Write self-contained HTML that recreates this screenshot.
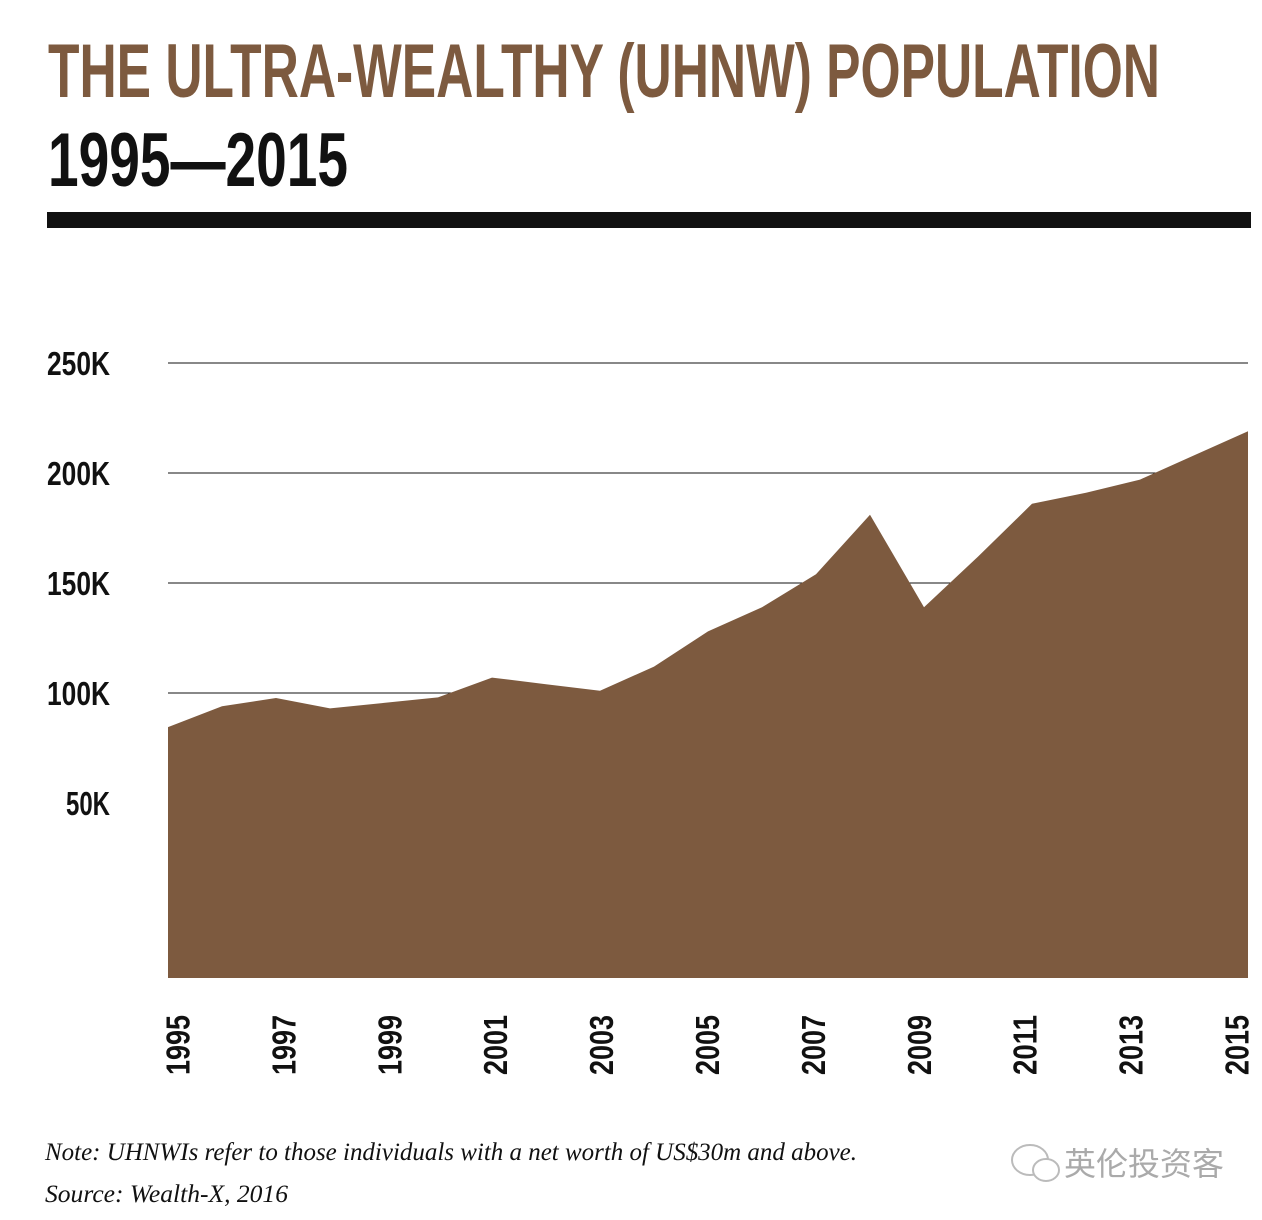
<!DOCTYPE html>
<html><head><meta charset="utf-8"><style>
html,body{margin:0;padding:0;background:#fff;}
svg{display:block;}
</style></head><body>
<svg width="1262" height="1220" viewBox="0 0 1262 1220" xmlns="http://www.w3.org/2000/svg">
<text x="48" y="97" font-family="Liberation Sans Narrow, Liberation Sans, sans-serif" font-weight="bold" font-size="76" fill="#7d5a3f" textLength="1112" lengthAdjust="spacingAndGlyphs">THE ULTRA-WEALTHY (UHNW) POPULATION</text>
<text x="48" y="186" font-family="Liberation Sans Narrow, Liberation Sans, sans-serif" font-weight="bold" font-size="76" fill="#111" textLength="300" lengthAdjust="spacingAndGlyphs">1995—2015</text>
<rect x="47" y="212" width="1204" height="16" fill="#111"/>
<g id="grid"></g>
<g id="area"></g>
<g id="ylabels"></g>
<g id="xlabels"></g>
<text x="45" y="1160" font-family="Liberation Serif, serif" font-style="italic" font-size="25" fill="#111" textLength="812" lengthAdjust="spacingAndGlyphs">Note: UHNWIs refer to those individuals with a net worth of US$30m and above.</text>
<text x="45" y="1202" font-family="Liberation Serif, serif" font-style="italic" font-size="25" fill="#111" textLength="243" lengthAdjust="spacingAndGlyphs">Source: Wealth-X, 2016</text>
<g>
<ellipse cx="1030" cy="1160" rx="18" ry="15" fill="none" stroke="#bbb" stroke-width="2"/>
<ellipse cx="1046" cy="1170" rx="13" ry="11" fill="#fff" stroke="#bbb" stroke-width="2"/>
<text x="1064" y="1175" font-family="Liberation Sans, Noto Sans CJK SC, sans-serif" font-size="32" fill="#aaa">英伦投资客</text>
</g>
</svg>
<script>
const years=[1995,1996,1997,1998,1999,2000,2001,2002,2003,2004,2005,2006,2007,2008,2009,2010,2011,2012,2013,2014,2015];
const population=[84500,94000,97700,93000,95500,98000,107000,104000,101000,112000,128000,139000,154000,181000,139000,162000,186000,191000,197000,208000,219000];
const yTicks=[50000,100000,150000,200000,250000];
const yTickLabels=['50K','100K','150K','200K','250K'];
const gridTicks=[100000,150000,200000,250000];
const xLabelYears=[1995,1997,1999,2001,2003,2005,2007,2009,2011,2013,2015];
const NS='http://www.w3.org/2000/svg';
const x=v=>168+(v-1995)*(1248-168)/20;
const xl=v=>178+(v-1995)*(1237-178)/20;
const y=v=>913-v*110/50000;
const BASE=978;
function mk(t,a,p){const e=document.createElementNS(NS,t);for(const k in a)e.setAttribute(k,a[k]);p.appendChild(e);return e;}
const g=document.getElementById('grid');
gridTicks.forEach(t=>{
 const l=mk('line',{x1:168,x2:1248,y1:y(t),y2:y(t),stroke:'#111','stroke-width':1},g);
 
 
});
let d='M'+x(years[0])+','+BASE;
years.forEach((yr,i)=>{d+=' L'+x(yr)+','+y(population[i]);});
d+=' L'+x(years[years.length-1])+','+BASE+' Z';
const a=mk('path',{d:d,fill:'#7d5a3f'},document.getElementById('area'));


const yl=document.getElementById('ylabels');
yTicks.forEach((t,i)=>{
 const lab=yTickLabels[i];
 const e=mk('text',{x:110,y:y(t)+12,'text-anchor':'end','font-family':'Liberation Sans Narrow, Liberation Sans, sans-serif','font-weight':'bold','font-size':33,fill:'#111',textLength:lab.length===4?63:44,lengthAdjust:'spacingAndGlyphs'},yl);
 e.textContent=lab;
 
 
});
const xg=document.getElementById('xlabels');
xLabelYears.forEach(yr=>{
 const cx=xl(yr), cy=1045;
 const e=mk('text',{x:cx,y:cy,'text-anchor':'middle','dominant-baseline':'central','font-family':'Liberation Sans Narrow, Liberation Sans, sans-serif','font-weight':'bold','font-size':33,fill:'#111',transform:'rotate(-90 '+cx+' '+cy+')',textLength:60,lengthAdjust:'spacingAndGlyphs'},xg);
 e.textContent=yr;
 
 
});
</script>
</body></html>
